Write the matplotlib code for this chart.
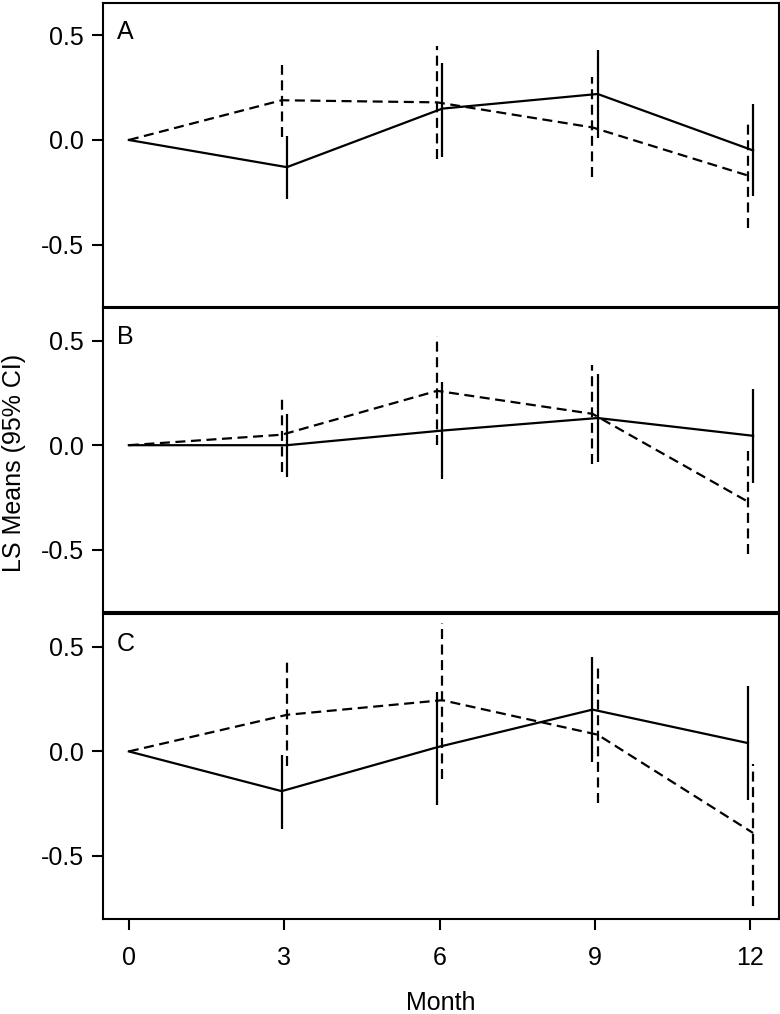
import numpy as np
import matplotlib
matplotlib.use("Agg")
import matplotlib.pyplot as plt

plt.rcParams['font.family'] = ['Liberation Sans', 'DejaVu Sans']

months = [0, 3, 6, 9, 12]
panels = ['A', 'B', 'C']

# solid series: mean, lower CI, upper CI (month 0 has no interval)
solid_mean = [[0, -0.13, 0.15, 0.22, -0.05],
              [0, 0.00, 0.07, 0.13, 0.045],
              [0, -0.19, 0.02, 0.20, 0.04]]
solid_lo = [[0, -0.28, -0.08, 0.01, -0.27],
            [0, -0.15, -0.16, -0.08, -0.18],
            [0, -0.37, -0.255, -0.05, -0.23]]
solid_hi = [[0, 0.02, 0.37, 0.43, 0.17],
            [0, 0.15, 0.30, 0.34, 0.27],
            [0, -0.015, 0.285, 0.45, 0.315]]

# dashed series
dash_mean = [[0, 0.19, 0.18, 0.06, -0.17],
             [0, 0.05, 0.26, 0.15, -0.27],
             [0, 0.175, 0.245, 0.08, -0.39]]
dash_lo = [[0, 0.015, -0.09, -0.175, -0.42],
           [0, -0.13, 0.00, -0.09, -0.52],
           [0, -0.07, -0.13, -0.245, -0.74]]
dash_hi = [[0, 0.36, 0.45, 0.30, 0.08],
           [0, 0.23, 0.52, 0.385, -0.03],
           [0, 0.43, 0.615, 0.40, -0.06]]

# which side each series sits on (small horizontal offset, in months)
solid_side = [1, 1, -1]

fig = plt.figure(figsize=(7.8, 10.14), dpi=100)
left, right = 0.132, 0.9987
tops = [0.997, 0.696, 0.394]
h = 0.300
fs = 18

dash_style = (0, (4.5, 2.5))
x = np.array(months, dtype=float)

for i, name in enumerate(panels):
    ax = fig.add_axes([left, tops[i] - h, right - left, h])
    off = 0.05 * solid_side[i]
    xs = x + np.where(x > 0, off, 0)
    xd = x - np.where(x > 0, off, 0)

    ax.plot(xs, solid_mean[i], color='black', lw=1.6)
    ax.plot(xd, dash_mean[i], color='black', lw=1.6, linestyle=dash_style)
    ax.vlines(xs[1:], solid_lo[i][1:], solid_hi[i][1:], color='black', lw=1.6)
    ax.vlines(xd[1:], dash_lo[i][1:], dash_hi[i][1:], color='black', lw=1.6,
              linestyles=[dash_style])

    ax.set_xlim(-0.5, 12.55)
    ax.set_ylim(-0.80, 0.655)
    ax.set_yticks([-0.5, 0.0, 0.5])
    ax.set_yticklabels(['-0.5', '0.0', '0.5'])
    for s in ax.spines.values():
        s.set_linewidth(1.5)
    ax.tick_params(axis='y', direction='out', length=8, width=1.5, labelsize=fs, pad=6)
    ax.text(0.021, 0.944, name, transform=ax.transAxes, ha='left', va='top', fontsize=fs)

    if i < 2:
        ax.tick_params(axis='x', bottom=False, labelbottom=False)
    else:
        ax.set_xticks(months)
        ax.tick_params(axis='x', direction='out', length=8, width=1.5, labelsize=fs, pad=12)

fig.text(0.018, 0.543, 'LS Means (95% CI)', rotation=90, ha='center', va='center', fontsize=fs)
fig.text(0.565, 0.011, 'Month', ha='center', va='center', fontsize=fs)

fig.savefig('out.png', dpi=100)
